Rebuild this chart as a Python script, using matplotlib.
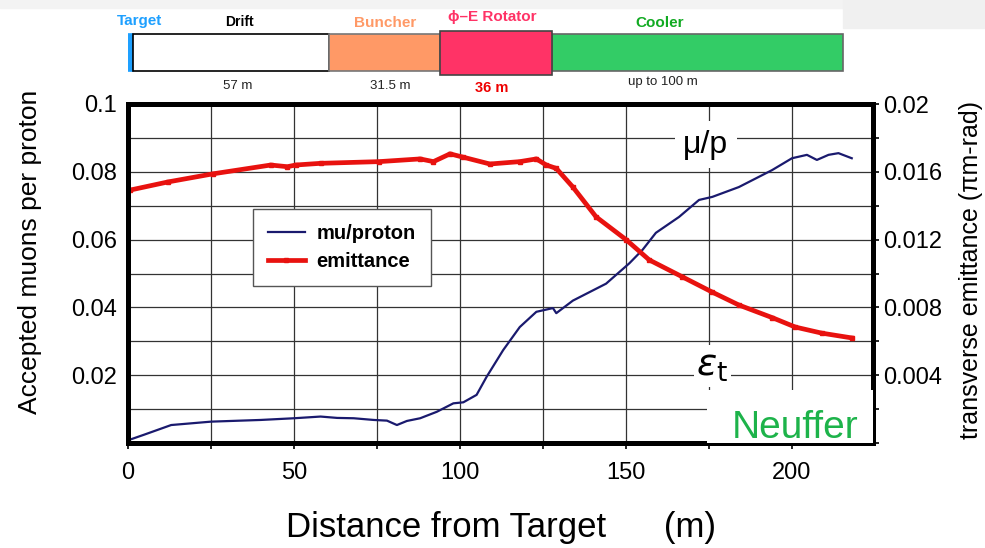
import numpy as np
import matplotlib
matplotlib.use('Agg')
import matplotlib.pyplot as plt
from matplotlib.patches import Rectangle
from matplotlib.ticker import MultipleLocator, FuncFormatter

plt.rcParams['font.family'] = ['Liberation Sans', 'DejaVu Sans']

# accepted muons per proton (left axis)
mu_x = [0.6, 5, 13, 25, 40, 50, 58, 63, 68, 74, 78, 81, 84, 88, 93, 98, 101,
        105, 108, 113, 118, 123, 128, 129, 134, 139, 144, 151, 155, 159, 166,
        172, 176, 184, 189, 194, 200, 204.5, 207.5, 211, 214, 218]
mu_y = [0.001, 0.0025, 0.0053, 0.0063, 0.0068, 0.0073, 0.0078, 0.0074, 0.0073,
        0.0068, 0.0066, 0.0053, 0.0065, 0.0073, 0.0092, 0.0117, 0.012, 0.0142,
        0.0195, 0.0274, 0.0342, 0.0387, 0.0398, 0.0383, 0.042, 0.0445, 0.047,
        0.053, 0.057, 0.062, 0.0667, 0.0717, 0.0726, 0.0755, 0.078, 0.0805,
        0.084, 0.085, 0.0835, 0.085, 0.0855, 0.084]

# transverse emittance (right axis, pi m-rad)
em_x = [0.6, 12, 25.6, 43, 48, 50.5, 58, 75.6, 88, 92, 97, 101, 109, 118, 123,
        126, 129, 134, 141, 150, 157, 167, 176, 184, 194, 201, 209, 218]
em_y = [0.01492, 0.0154, 0.01588, 0.0164, 0.0163, 0.0164, 0.0165, 0.0166,
        0.01676, 0.0166, 0.01706, 0.01686, 0.01646, 0.0166, 0.01676, 0.0164,
        0.0162, 0.0151, 0.01334, 0.012, 0.0108, 0.0098, 0.0089, 0.00814,
        0.0074, 0.00684, 0.00648, 0.0062]

# beamline layout sketch
seg_names = ['Target', 'Drift', 'Buncher', '\u03d5\u2013E Rotator', 'Cooler']
seg_len = [1.5, 59.0, 33.5, 33.7, 87.7]
seg_colors = ['#1ea0ff', 'white', '#ff9966', '#ff3366', '#33cc66']
seg_edges = ['#1ea0ff', 'black', '#777777', '#444444', '#666666']
name_colors = ['#1ea0ff', 'black', '#ff9966', '#ff3366', '#11aa22']
len_labels = ['', '57 m', '31.5 m', '36 m', 'up to 100 m']

XMAX = 224.4

fig = plt.figure(figsize=(9.85, 5.48), dpi=100)

# faint grey margins of the original slide
fig.patches.append(Rectangle((0, 1 - 8 / 548), 1, 8 / 548, transform=fig.transFigure,
                             color='#f3f3f3', zorder=-5))
fig.patches.append(Rectangle((843 / 985, 1 - 28 / 548), 1, 28 / 548,
                             transform=fig.transFigure, color='#f0f0f0', zorder=-5))

ax = fig.add_axes([128 / 985, 1 - 443 / 548, 745 / 985, 339 / 548])
ax2 = ax.twinx()

ax.set_xlim(0, XMAX)
ax.set_ylim(0, 0.1)
ax2.set_ylim(0, 0.02)

ax.xaxis.set_major_locator(MultipleLocator(25))
ax.xaxis.set_major_formatter(FuncFormatter(lambda v, p: f'{v:.0f}' if v % 50 == 0 else ''))
ax.yaxis.set_major_locator(MultipleLocator(0.01))
ax.yaxis.set_major_formatter(FuncFormatter(
    lambda v, p: ('0.1' if abs(v - 0.1) < 1e-9 else f'{v:.2f}') if (round(v * 100) % 2 == 0 and v > 1e-9) else ''))
ax2.yaxis.set_major_locator(MultipleLocator(0.002))
ax2.yaxis.set_major_formatter(FuncFormatter(
    lambda v, p: ('0.02' if abs(v - 0.02) < 1e-9 else f'{v:.3f}') if (round(v * 1000) % 4 == 0 and v > 1e-9) else ''))

ax.grid(True, color='#333333', lw=0.9)
ax.tick_params(axis='x', direction='out', length=4, width=1.2, pad=10, labelsize=17)
ax.tick_params(axis='y', length=0, pad=8, labelsize=17)
ax2.tick_params(axis='y', direction='out', length=4, width=1.2, pad=3, labelsize=17)

for a in (ax, ax2):
    for s in a.spines.values():
        s.set_linewidth(3.6)

l1, = ax.plot(mu_x, mu_y, color='#1a1a6e', lw=1.6, label='mu/proton')
l2, = ax2.plot(em_x, em_y, color='#e8120f', lw=3.4, marker='s', ms=3.5, label='emittance')

leg = ax2.legend(handles=[l1, l2], loc='upper left', bbox_to_anchor=(0.168, 0.69),
                 borderaxespad=0, fancybox=False, edgecolor='#555555', framealpha=1,
                 prop={'weight': 'bold', 'size': 14.5}, handlelength=1.8,
                 handletextpad=0.6, borderpad=0.75, labelspacing=0.45)
leg.get_frame().set_linewidth(1.0)

ax2.text(174, 0.0176, '\u03bc/p', fontsize=23, ha='center', va='center', zorder=6,
         bbox=dict(facecolor='white', edgecolor='none', pad=6))
ax2.text(176, 0.00454, r'$\varepsilon_\mathrm{t}$', fontsize=27, ha='center', va='center',
         zorder=6, bbox=dict(facecolor='white', edgecolor='none', pad=2))
ax2.add_patch(Rectangle((174.4, 0), XMAX - 174.4, 0.00312, facecolor='white',
                        edgecolor='none', zorder=5))
ax2.text(201, 0.0009, 'Neuffer', fontsize=28, color='#1db34a', ha='center', va='center',
         zorder=6)

ax.set_xlabel('Distance from Target      (m)', fontsize=25, labelpad=19)
fig.text(30 / 985, 1 - 252 / 548, 'Accepted muons per proton', rotation=90,
         fontsize=19, ha='center', va='center')
fig.text(971 / 985, 1 - 270 / 548, 'transverse emittance (\u03c0m-rad)', rotation=90,
         fontsize=18, ha='center', va='center')

# beamline sketch on top, sharing the distance scale
axd = fig.add_axes([128 / 985, 1 - 100 / 548, 745 / 985, 100 / 548])
axd.set_xlim(0, XMAX)
axd.set_ylim(100, 0)
axd.axis('off')

lefts = np.concatenate([[0], np.cumsum(seg_len)[:-1]])
for i, (left, w) in enumerate(zip(lefts, seg_len)):
    tall = 'Rotator' in seg_names[i]
    y0, h = (31, 44) if tall else (34, 37)
    axd.bar(left, h, width=w, bottom=y0, align='edge', color=seg_colors[i],
            edgecolor=seg_edges[i], lw=1.2, zorder=3 if tall else 2)

name_x = [3.6, 33.7, 77.4, 109.6, 160.0]
name_y = [21, 22, 23, 17, 23]
name_size = [11, 10, 11, 11, 11]
for i, nm in enumerate(seg_names):
    axd.text(name_x[i], name_y[i], nm, color=name_colors[i], fontsize=name_size[i],
             fontweight='bold', ha='center', va='center', clip_on=False)

len_x = [0, 33.0, 79.0, 109.6, 161.0]
len_y = [0, 86, 86, 88, 82]
for i, lb in enumerate(len_labels):
    if not lb:
        continue
    red = i == 3
    axd.text(len_x[i], len_y[i], lb, fontsize=10.5 if red else 9.5,
             color='#ee0000' if red else '#222222', fontweight='bold' if red else 'normal',
             ha='center', va='center')

fig.savefig('out.png', dpi=100)
